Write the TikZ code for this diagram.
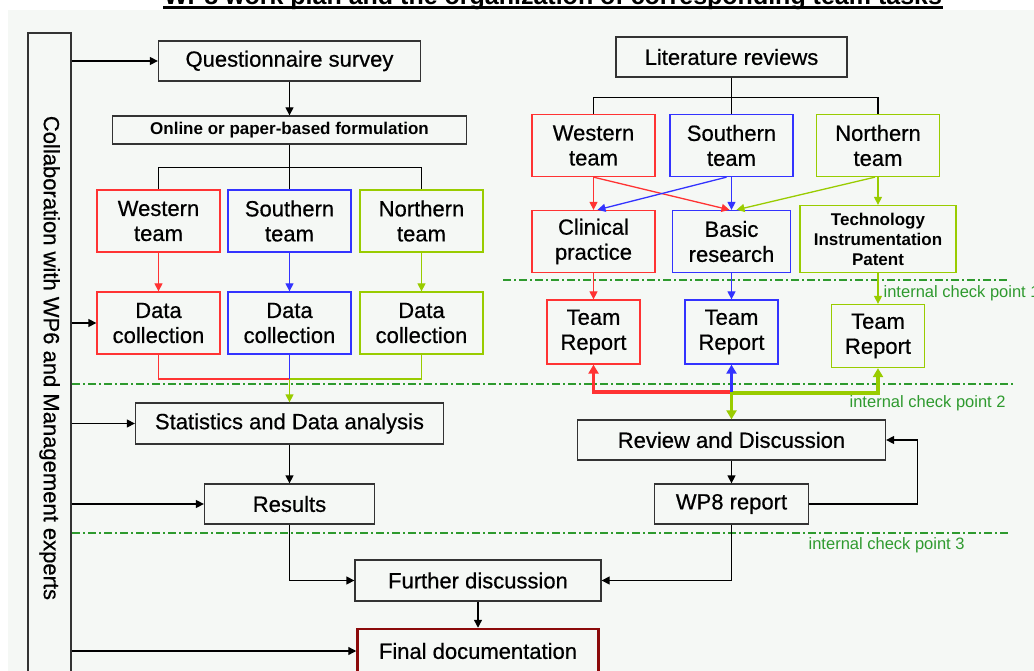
\documentclass[tikz,border=0pt]{standalone}
\usepackage{fontspec}
\setmainfont{Liberation Sans}
\newfontfamily\boxfont{Liberation Sans}[FakeBold=0.6]
\usepackage{tikz}
\usetikzlibrary{calc, positioning, arrows.meta}
\definecolor{paper}{HTML}{F5F8F5}
\definecolor{boxline}{HTML}{333333}
\definecolor{wred}{HTML}{FF3333}
\definecolor{sblue}{HTML}{3333FF}
\definecolor{ngreen}{HTML}{99CC00}
\definecolor{checkgreen}{HTML}{2E9A2E}
\definecolor{finalred}{HTML}{8B0A0A}
\tikzset{
	box/.style={draw=boxline, line width=1.3pt, inner sep=0pt, align=center, font=\boxfont\fontsize{22}{25}\selectfont},
	teambox/.style={box, minimum width=123, minimum height=62},
	reportbox/.style={box, minimum width=93, minimum height=64},
	smallbold/.style={font=\bfseries\fontsize{17}{20}\selectfont},
	arr/.style={-{Triangle[length=8pt, width=8pt]}},
	fatarr/.style={line width=3.5pt, -{Triangle[length=9pt, width=10pt]}},
	checkline/.style={draw=checkgreen, line width=1.3pt, dash pattern=on 8pt off 3pt on 2pt off 3pt},
	checklabel/.style={anchor=west, text=checkgreen, inner sep=0pt, font=\fontsize{16.5}{19}\selectfont},
}
\begin{document}
\begin{tikzpicture}[x=1pt, y=-1pt, line width=1.3pt]
	\useasboundingbox (0,0) rectangle (1034,671);
	\fill[paper] (8,10) rectangle (1034,671);
	\node[anchor=base, inner sep=0pt, font=\bfseries\fontsize{25}{30}\selectfont] (title) at (553,5) {WP8 work plan and the organization of corresponding team tasks};
	\draw[line width=3pt] ([yshift=-3pt]title.base west) -- ([yshift=-3pt]title.base east);

	% check points
	\draw[checkline] (503,280) -- (1007,280);
	\draw[checkline] (72,384) -- (1013,384);
	\draw[checkline] (72,533) -- (1008,533);
	\node[checklabel] (cp1) at (883,293) {internal check point 1};
	\node[checklabel] (cp2) at (849,403) {internal check point 2};
	\node[checklabel] (cp3) at (808,545) {internal check point 3};

	% left side
	\node[box, rotate=-90, minimum width=650, minimum height=43] (collab) at (49.5,358) {Collaboration with WP6 and Management experts};
	\node[box, minimum width=262, minimum height=40] (quest) at (289.5,61) {Questionnaire survey};
	\node[box, smallbold, minimum width=354, minimum height=28] (online) at (289.5,130) {Online or paper-based formulation};
	\draw[arr] (quest) -- (online);
	\foreach \n/\c/\lbl/\x in {lw/wred/Western/158.5, ls/sblue/Southern/289.5, ln/ngreen/Northern/421.5} {
		\node[teambox, draw=\c] (\n-team) at (\x,221) {\lbl\\team};
		\node[teambox, draw=\c] (\n-data) at (\x,323) {Data\\collection};
		\draw (online.south) -- ++(0,23) -| (\n-team.north);
		\draw[arr, \c] (\n-team) -- (\n-data);
	}
	\coordinate (lmerge) at (289.5,379);
	\draw[wred] (lw-data.south) |- (lmerge);
	\draw[ngreen] (ln-data.south) |- (lmerge);
	\draw[sblue] (ls-data.south) -- (lmerge);
	\node[box, minimum width=308, minimum height=41] (stat) at (289.5,423.5) {Statistics and Data analysis};
	\draw[arr, ngreen] (lmerge) -- (stat.north);
	\node[box, minimum width=170, minimum height=40] (results) at (289.5,504) {Results};
	\draw[arr] (stat) -- (results);
	\node[box, minimum width=246, minimum height=41] (further) at (478,580.5) {Further discussion};
	\node[box, draw=finalred, line width=2.5pt, minimum width=241, minimum height=44] (final) at (478,651) {Final documentation};
	\draw[arr] (results.south) |- (further.west);
	\draw[arr] (further) -- (final);
	% collab.north is its right side (rotated)
	\foreach \n in {quest, lw-data, stat, results, final}
		\draw[arr] (collab.north |- \n.west) -- (\n.west);

	% right side
	\node[box, minimum width=231, minimum height=40] (lit) at (731.5,57) {Literature reviews};
	\foreach \n/\c/\lbl/\x in {rw/wred/Western/593.5, rs/sblue/Southern/731.5, rn/ngreen/Northern/878} {
		\node[teambox, draw=\c] (\n-team) at (\x,145.5) {\lbl\\team};
		\draw (lit.south) -- ++(0,20) -| (\n-team.north);
	}
	\node[teambox, draw=wred] (clin) at (593.5,241.5) {Clinical\\practice};
	\node[teambox, draw=sblue, minimum width=118] (basic) at (731.5,241.5) {Basic\\research};
	\node[box, smallbold, draw=ngreen, minimum width=156, minimum height=67] (tech) at (878,239) {Technology\\Instrumentation\\Patent};
	\draw[arr, wred] (rw-team) -- (clin);
	\draw[arr, wred] (rw-team.south) -- ([xshift=-2pt]basic.north);
	\draw[arr, sblue] (rs-team) -- (basic);
	\draw[arr, sblue] ([xshift=-5pt]rs-team.south) -- ([xshift=4pt]clin.north);
	\draw[arr, ngreen] ([xshift=-3pt]rn-team.south) -- ([xshift=5pt]basic.north);
	\draw[arr, ngreen] (rn-team) -- (tech);
	\node[reportbox, draw=wred] (rw-rep) at (593.5,332) {Team\\Report};
	\node[reportbox, draw=sblue] (rs-rep) at (731.5,332) {Team\\Report};
	\node[reportbox, draw=ngreen, minimum height=63] (rn-rep) at (878,336) {Team\\Report};
	\draw[arr, wred] (clin) -- (rw-rep);
	\draw[arr, sblue] (basic) -- (rs-rep);
	\draw[arr, ngreen] (tech) -- (rn-rep);
	\node[box, minimum width=308, minimum height=40] (review) at (731.5,440) {Review and Discussion};
	\node[box, minimum width=154, minimum height=40] (wp8) at (731.5,504) {WP8 report};
	\coordinate (hub) at (731.5,392);
	\draw[fatarr, wred] (hub) -| (rw-rep.south);
	\draw[fatarr, ngreen] ([yshift=-1pt]hub) -| (rn-rep.south);
	\draw[fatarr, sblue] (hub) -- (rs-rep.south);
	\draw[fatarr, ngreen] (hub) -- (review.north);
	\draw[arr] (review) -- (wp8);
	\draw[arr] (wp8.east) -- ++(108,0) |- (review.east);
	\draw[arr] (wp8.south) |- (further.east);
\end{tikzpicture}
\end{document}
